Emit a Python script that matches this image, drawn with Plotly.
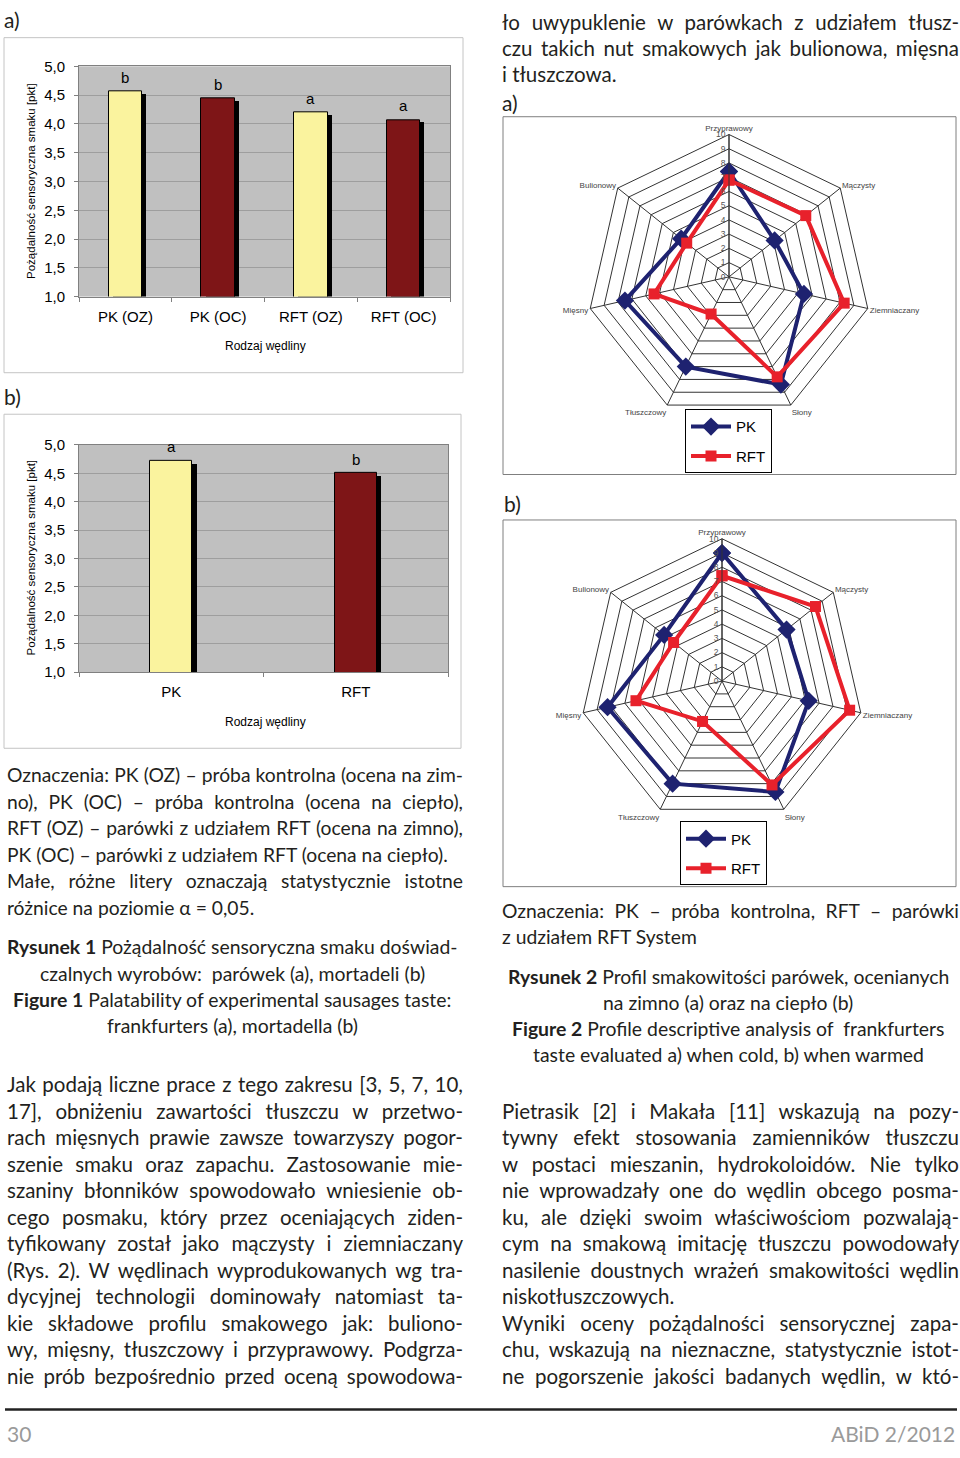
import json
import plotly.graph_objects as go

W, H = 960, 1458

# ---------------- data ----------------
categories_a = ["PK (OZ)", "PK (OC)", "RFT (OZ)", "RFT (OC)"]
values_a = [4.56, 4.44, 4.20, 4.07]
letters_a = ["b", "b", "a", "a"]

categories_b = ["PK", "RFT"]
values_b = [4.72, 4.50]
letters_b = ["a", "b"]

y_tick_values = [1.0, 1.5, 2.0, 2.5, 3.0, 3.5, 4.0, 4.5, 5.0]

radar_axes = ["Przyprawowy", "Mączysty", "Ziemniaczany", "Słony",
              "Tłuszczowy", "Mięsny", "Bulionowy"]
radar_a_pk = [7.4, 4.1, 5.4, 8.4, 7.0, 7.5, 4.3]
radar_a_rft = [6.8, 6.9, 8.3, 7.8, 2.9, 5.4, 3.8]
radar_b_pk = [9.0, 5.8, 6.25, 8.65, 8.0, 8.25, 5.2]
radar_b_rft = [7.4, 8.4, 9.2, 8.1, 3.15, 6.2, 4.35]

# ---------------- styles ----------------
YELLOW = "#FAF39E"
DARKRED = "#7E1517"
NAVY = "#1E2270"
RED = "#E8212B"
TXT = "#231F20"
ARIAL = "Liberation Sans, Arial, sans-serif"
BODY = "Lato, sans-serif"
BODY_SIZE = 20.5
NOTE_SIZE = 19.3
CAP_SIZE = 19.4


def px(x):
    return x / W


def py(y):
    return 1 - y / H


fig = go.Figure()

# ---------------- bar chart a ----------------
bw_a = 0.36
sh_dx_a = 0.045
bar_cols_a = [YELLOW, DARKRED, YELLOW, DARKRED]
fig.add_trace(go.Bar(x=categories_a, y=[v - 0.05 for v in values_a],
                     width=bw_a, offset=-bw_a / 2 + sh_dx_a,
                     marker=dict(color="black", line=dict(width=0)),
                     xaxis="x", yaxis="y", showlegend=False, hoverinfo="skip"))
fig.add_trace(go.Bar(x=categories_a, y=values_a, width=bw_a, offset=-bw_a / 2,
                     marker=dict(color=bar_cols_a, line=dict(color="black", width=1)),
                     xaxis="x", yaxis="y", showlegend=False))

# ---------------- bar chart b ----------------
bw_b = 0.23
sh_dx_b = 0.022
fig.add_trace(go.Bar(x=categories_b, y=[v - 0.05 for v in values_b],
                     width=bw_b, offset=-bw_b / 2 + sh_dx_b,
                     marker=dict(color="black", line=dict(width=0)),
                     xaxis="x2", yaxis="y2", showlegend=False, hoverinfo="skip"))
fig.add_trace(go.Bar(x=categories_b, y=values_b, width=bw_b, offset=-bw_b / 2,
                     marker=dict(color=[YELLOW, DARKRED], line=dict(color="black", width=1)),
                     xaxis="x2", yaxis="y2", showlegend=False))

# ---------------- radar charts ----------------
def closed(v):
    return list(v) + [v[0]]


theta = closed(radar_axes)
for r_pk, r_rft, sub, leg in [(radar_a_pk, radar_a_rft, "polar", "legend"),
                              (radar_b_pk, radar_b_rft, "polar2", "legend2")]:
    fig.add_trace(go.Scatterpolar(r=closed(r_pk), theta=theta, subplot=sub, name="PK",
                                  mode="lines+markers", legend=leg, legendgroup="pk",
                                  line=dict(color=NAVY, width=4),
                                  marker=dict(symbol="diamond", size=14, color=NAVY)))
    fig.add_trace(go.Scatterpolar(r=closed(r_rft), theta=theta, subplot=sub, name="RFT",
                                  mode="lines+markers", legend=leg, legendgroup="rft",
                                  line=dict(color=RED, width=4),
                                  marker=dict(symbol="square", size=11, color=RED)))

# ---------------- axes ----------------
xa_common = dict(type="category", showline=True, mirror=True, linecolor="#808080",
                 ticks="outside", tickson="boundaries", ticklen=4, tickcolor="#808080",
                 tickfont=dict(family=ARIAL, size=15, color="black"),
                 ticklabelstandoff=6, showgrid=False, zeroline=False, fixedrange=True)
ya_common = dict(range=[1, 5], tickvals=y_tick_values, tickformat=".1f",
                 showline=True, mirror=True, linecolor="#808080",
                 ticks="outside", ticklen=4, tickcolor="#808080",
                 gridcolor="#9E9E9E", gridwidth=1,
                 tickfont=dict(family=ARIAL, size=15, color="black"),
                 ticklabelstandoff=6, zeroline=False, fixedrange=True)

polar_common = dict(
    bgcolor="white",
    gridshape="linear",
    radialaxis=dict(range=[0, 10], dtick=1, angle=90, side="counterclockwise",
                    tickangle=90,
                    showline=True, linecolor="#333", linewidth=1,
                    gridcolor="#333", gridwidth=0.8, ticks="",
                    tickfont=dict(family=ARIAL, size=8.5, color="#555")),
    angularaxis=dict(direction="clockwise", rotation=90, showline=True,
                     linecolor="#333", linewidth=1, gridcolor="#333", gridwidth=0.8,
                     ticks="", tickfont=dict(family=ARIAL, size=8, color="#444")),
)

legend_common = dict(bgcolor="white", bordercolor="black", borderwidth=1,
                     font=dict(family=ARIAL, size=15, color="black"),
                     xanchor="left", yanchor="top", traceorder="grouped",
                     tracegroupgap=7, itemwidth=40)

fig.update_layout(
    width=W, height=H, autosize=False,
    margin=dict(l=0, r=0, t=0, b=0),
    paper_bgcolor="white", plot_bgcolor="#C0C0C0",
    separators=", ",
    barmode="overlay",
    bargap=0,
    xaxis=dict(domain=[px(79), px(450)], anchor="y", **xa_common),
    yaxis=dict(domain=[py(291), py(58)], anchor="x", **ya_common),
    xaxis2=dict(domain=[px(79), px(448)], anchor="y2", **xa_common),
    yaxis2=dict(domain=[py(671), py(441)], anchor="x2", **ya_common),
    polar=dict(domain=dict(x=[px(585), px(873)], y=[py(415), py(127)]), **polar_common),
    polar2=dict(domain=dict(x=[px(578), px(866)], y=[py(824), py(536)]), **polar_common),
    legend=dict(x=px(685), y=py(405), **legend_common),
    legend2=dict(x=px(680), y=py(822), **legend_common),
    showlegend=True,
)

# ---------------- shapes (frames, footer line) ----------------
shapes = []
def rect(x0, y0, x1, y1, color):
    shapes.append(dict(type="rect", xref="paper", yref="paper",
                       x0=px(x0), x1=px(x1), y0=py(y1), y1=py(y0),
                       line=dict(color=color, width=1), fillcolor="rgba(0,0,0,0)", layer="below"))

rect(4, 29, 463, 368, "#C4C4C4")
rect(4, 410, 461, 748, "#C4C4C4")
rect(503, 109, 956, 471, "#7F7F7F")
rect(503, 517, 956, 888, "#7F7F7F")
shapes.append(dict(type="line", xref="paper", yref="paper", x0=px(5), x1=px(957),
                   y0=py(1417), y1=py(1417), line=dict(color="#222", width=2.5)))

# ---------------- annotations ----------------
ann = []
justify = []  # (annotation index, target width in px)

def text(x, y, s, size=BODY_SIZE, family=BODY, color=TXT, xanchor="left", angle=0,
         yanchor="middle", width_to=None):
    if width_to is not None:
        justify.append([len(ann), width_to - x])
    ann.append(dict(x=px(x), y=py(y), xref="paper", yref="paper", text=s, showarrow=False,
                    xanchor=xanchor, yanchor=yanchor, textangle=angle,
                    align="left" if xanchor == "left" else "center",
                    font=dict(family=family, size=size, color=color)))

# significance letters on bars (data coords)
for c, v, l in zip(categories_a, values_a, letters_a):
    ann.append(dict(x=c, y=v + 0.06, xref="x", yref="y", text=l, showarrow=False,
                    yanchor="bottom", font=dict(family=ARIAL, size=15, color="black")))
for c, v, l in zip(categories_b, values_b, letters_b):
    ann.append(dict(x=c, y=v + 0.06, xref="x2", yref="y2", text=l, showarrow=False,
                    yanchor="bottom", font=dict(family=ARIAL, size=15, color="black")))

# axis titles
ytitle = "Pożądalność sensoryczna smaku [pkt]"
text(31, 174, ytitle, size=11.5, family=ARIAL, color="black", xanchor="center", angle=-90)
text(31, 555, ytitle, size=11.5, family=ARIAL, color="black", xanchor="center", angle=-90)
text(265, 341, "Rodzaj wędliny", size=12, family=ARIAL, color="black", xanchor="center")
text(265, 721, "Rodzaj wędliny", size=12, family=ARIAL, color="black", xanchor="center")

# panel labels
text(2, 11, "a)", size=21)
text(2, 392, "b)", size=21)
text(500, 95, "a)", size=21)
text(502, 500, "b)", size=21)

# body text blocks: (line, justified?)
top_right = [("ło uwypuklenie w parówkach z udziałem tłusz-", True),
             ("czu takich nut smakowych jak bulionowa, mięsna", True),
             ("i tłuszczowa.", False)]
notes_1 = [("Oznaczenia: PK (OZ) – próba kontrolna (ocena na zim-", True),
           ("no), PK (OC) – próba kontrolna (ocena na ciepło),", True),
           ("RFT (OZ) – parówki z udziałem RFT (ocena na zimno),", True),
           ("PK (OC) – parówki z udziałem RFT (ocena na ciepło).", False),
           ("Małe, różne litery oznaczają statystycznie istotne", True),
           ("różnice na poziomie α = 0,05.", False)]
caption_1 = ["<b>Rysunek 1</b> Pożądalność sensoryczna smaku doświad-",
             "czalnych wyrobów:  parówek (a), mortadeli (b)",
             "<b>Figure 1</b> Palatability of experimental sausages taste:",
             "frankfurters (a), mortadella (b)"]
body_left = [("Jak podają liczne prace z tego zakresu [3, 5, 7, 10,", True),
             ("17], obniżeniu zawartości tłuszczu w przetwo-", True),
             ("rach mięsnych prawie zawsze towarzyszy pogor-", True),
             ("szenie smaku oraz zapachu. Zastosowanie mie-", True),
             ("szaniny błonników spowodowało wniesienie ob-", True),
             ("cego posmaku, który przez oceniających ziden-", True),
             ("tyfikowany został jako mączysty i ziemniaczany", True),
             ("(Rys. 2). W wędlinach wyprodukowanych wg tra-", True),
             ("dycyjnej technologii dominowały natomiast ta-", True),
             ("kie składowe profilu smakowego jak: buliono-", True),
             ("wy, mięsny, tłuszczowy i przyprawowy. Podgrza-", True),
             ("nie prób bezpośrednio przed oceną spowodowa-", True)]
notes_2 = [("Oznaczenia: PK – próba kontrolna, RFT – parówki", True),
           ("z udziałem RFT System", False)]
caption_2 = ["<b>Rysunek 2</b> Profil smakowitości parówek, ocenianych",
             "na zimno (a) oraz na ciepło (b)",
             "<b>Figure 2</b> Profile descriptive analysis of  frankfurters",
             "taste evaluated a) when cold, b) when warmed"]
body_right = [("Pietrasik [2] i Makała [11] wskazują na pozy-", True),
              ("tywny efekt stosowania zamienników tłuszczu", True),
              ("w postaci mieszanin, hydrokoloidów. Nie tylko", True),
              ("nie wprowadzały one do wędlin obcego posma-", True),
              ("ku, ale dzięki swoim właściwościom pozwalają-", True),
              ("cym na smakową imitację tłuszczu powodowały", True),
              ("nasilenie doustnych wrażeń smakowitości wędlin", True),
              ("niskotłuszczowych.", False),
              ("Wyniki oceny pożądalności sensorycznej zapa-", True),
              ("chu, wskazują na nieznaczne, statystycznie istot-", True),
              ("ne pogorszenie jakości badanych wędlin, w któ-", True)]

LS = 26.8
LEFT_X0, LEFT_X1 = 5, 461
RIGHT_X0, RIGHT_X1 = 500, 957

for i, (s, j) in enumerate(top_right):
    text(RIGHT_X0, 13 + i * 26.5, s, width_to=RIGHT_X1 if j else None)
for i, (s, j) in enumerate(notes_1):
    text(LEFT_X0, 775 + i * LS, s, size=NOTE_SIZE, width_to=LEFT_X1 if j else None)
for i, s in enumerate(caption_1):
    text(232, 949 + i * 26.6, s, size=CAP_SIZE, xanchor="center")
for i, (s, j) in enumerate(body_left):
    text(LEFT_X0, 1088 + i * LS, s, width_to=LEFT_X1 if j else None)
for i, (s, j) in enumerate(notes_2):
    text(RIGHT_X0, 912 + i * 26, s, size=NOTE_SIZE, width_to=RIGHT_X1 if j else None)
for i, s in enumerate(caption_2):
    text(728, 979 + i * 26.4, s, size=CAP_SIZE, xanchor="center")
for i, (s, j) in enumerate(body_right):
    text(RIGHT_X0, 1115 + i * LS, s, width_to=RIGHT_X1 if j else None)

# footer
text(5, 1441, "30", size=21, color="#9A9A9A")
text(957, 1441, "ABiD 2/2012", size=21, color="#9A9A9A", xanchor="right")

fig.update_layout(shapes=shapes, annotations=ann)

# page reset + justified typesetting of the body text lines
post = """
document.body.style.margin = '0';
document.body.style.overflow = 'hidden';
var gd = document.getElementById('{plot_id}');
var J = %s;
J.forEach(function(p) {
  var t = gd.querySelector('.annotation[data-index="' + p[0] + '"] text.annotation-text');
  if (!t) return;
  var w = t.getComputedTextLength();
  var n = (t.textContent.match(/ /g) || []).length;
  if (n > 0) {
    var ws = Math.max((p[1] - w) / n, -1.5);
    t.style.wordSpacing = ws + 'px';
    var w2 = t.getComputedTextLength();
    if (w2 > p[1] + 0.5) {
      t.setAttribute('textLength', p[1]);
      t.setAttribute('lengthAdjust', 'spacingAndGlyphs');
    }
  }
});
""" % json.dumps(justify)

fig.write_html("out.html", post_script=post, config={"displayModeBar": False})
